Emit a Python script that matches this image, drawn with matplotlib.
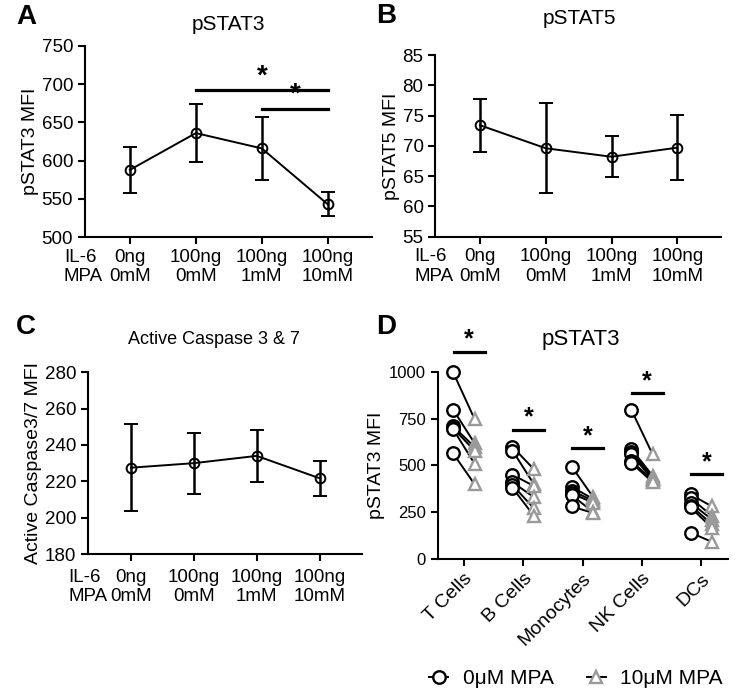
import matplotlib
matplotlib.use("Agg")
import matplotlib.pyplot as plt
from matplotlib.lines import Line2D
from matplotlib.transforms import offset_copy

plt.rcParams['font.family'] = ['Liberation Sans', 'DejaVu Sans']

W, H = 743, 698

# conditions for panels A-C
il6 = ['0ng', '100ng', '100ng', '100ng']
mpa = ['0mM', '0mM', '1mM', '10mM']

# A: pSTAT3
a_mean = [588, 636, 616, 543]
a_err = [30, 37.5, 41, 15.5]
a_sig = [(1, 3, 692), (2, 3, 668)]

# B: pSTAT5
b_mean = [73.4, 69.6, 68.2, 69.7]
b_err = [4.35, 7.4, 3.4, 5.35]

# C: active caspase 3/7
c_mean = [227.5, 230, 234, 221.7]
c_err = [24, 16.8, 14.3, 9.6]

# D: pSTAT3 per cell type, paired 0uM vs 10uM MPA
cells = ['T Cells', 'B Cells', 'Monocytes', 'NK Cells', 'DCs']
d_ctrl = [
    [1000, 800, 710, 700, 695, 565],
    [600, 580, 450, 410, 395, 380],
    [493, 385, 365, 350, 340, 280],
    [800, 590, 575, 560, 525, 515],
    [345, 325, 300, 285, 275, 140],
]
d_mpa = [
    [750, 620, 600, 580, 510, 400],
    [480, 400, 390, 330, 270, 230],
    [330, 320, 310, 300, 250, 245],
    [560, 445, 435, 425, 420, 410],
    [280, 230, 210, 185, 165, 90],
]
d_sig = [1110, 690, 592, 888, 452]

fig = plt.figure(figsize=(W / 100, H / 100), dpi=100)


def px(x, y):
    return x / W, 1 - y / H


def style(ax, size=13.5):
    for s in ['top', 'right']:
        ax.spines[s].set_visible(False)
    for s in ['left', 'bottom']:
        ax.spines[s].set_linewidth(1.5)
    ax.tick_params(width=1.5, length=5, labelsize=size)


def cond_panel(rect, mean, err, ylim, yticks, ylabel, xpad=3.5):
    ax = fig.add_axes(rect)
    x = range(len(mean))
    ax.errorbar(x, mean, yerr=err, color='black', lw=1.4, elinewidth=1.8,
                capsize=4.7, capthick=1.8, marker='o', ms=7, mfc='none',
                mec='black', mew=1.4, clip_on=False)
    ax.set_xlim(-0.68, 3.67)
    ax.set_ylim(*ylim)
    ax.set_yticks(yticks)
    ax.set_xticks(list(x))
    ax.set_xticklabels([a + '\n' + b for a, b in zip(il6, mpa)], linespacing=1.17)
    style(ax)
    ax.tick_params(axis='x', pad=xpad)
    ax.set_ylabel(ylabel, fontsize=14, labelpad=2)
    tr = offset_copy(ax.get_xaxis_transform(), fig=fig, y=-(5 + xpad),
                     units='points')
    ax.text(-1.0, 0, 'IL-6\nMPA', transform=tr, fontsize=13.5, ha='left',
            va='top', linespacing=1.17)
    return ax


axA = cond_panel([0.1144, 0.66, 0.3863, 0.2745], a_mean, a_err, (500, 750),
                 range(500, 751, 50), 'pSTAT3 MFI')
for i, j, y in a_sig:
    axA.plot([i, j], [y, y], color='black', lw=2.3, clip_on=False)
    axA.text((i + j) / 2, y + 1, '*', ha='center', va='bottom', fontsize=20,
             fontweight='bold')

axB = cond_panel([0.5859, 0.6609, 0.3849, 0.2603], b_mean, b_err, (55, 85),
                 range(55, 86, 5), 'pSTAT5 MFI')

axC = cond_panel([0.1188, 0.2063, 0.368, 0.2603], c_mean, c_err, (180, 280),
                 range(180, 281, 20), 'Active Caspase3/7 MFI', xpad=6)

# panel D
axD = fig.add_axes([0.5891, 0.1996, 0.3907, 0.267])
off = 0.18
for k in range(len(cells)):
    for c, t in zip(d_ctrl[k], d_mpa[k]):
        axD.plot([k - off, k + off], [c, t], color='black', lw=1.4, zorder=2,
                 clip_on=False)
    axD.plot([k + off] * len(d_mpa[k]), d_mpa[k], ls='none', marker='^', ms=9,
             mfc='white', mec='#9a9a9a', mew=1.7, zorder=3, clip_on=False)
    axD.plot([k - off] * len(d_ctrl[k]), d_ctrl[k], ls='none', marker='o',
             ms=9, mfc='white', mec='black', mew=1.7, zorder=4, clip_on=False)
    axD.plot([k - 0.17, k + 0.35], [d_sig[k], d_sig[k]], color='black', lw=2.3,
             clip_on=False)
    axD.text(k + 0.09, d_sig[k] + 2, '*', ha='center', va='bottom', fontsize=18,
             fontweight='bold')
axD.set_xlim(-0.44, 4.45)
axD.set_ylim(0, 1000)
axD.set_yticks(range(0, 1001, 250))
axD.set_xticks(range(len(cells)))
style(axD, 12)
axD.set_xticklabels(cells, rotation=45, ha='right', va='top',
                    rotation_mode='anchor', fontsize=14)
axD.set_ylabel('pSTAT3 MFI', fontsize=14, labelpad=3)

# titles
for t, (x, y), s in [('pSTAT3', (228, 25), 15), ('pSTAT5', (579, 18), 15),
                     ('Active Caspase 3 & 7', (214, 340), 13),
                     ('pSTAT3', (581, 339), 16)]:
    fig.text(*px(x, y), t, fontsize=s, ha='center', va='center')

h0 = Line2D([], [], color='black', lw=1.4, marker='o', ms=9, mfc='white',
            mec='black', mew=1.7)
h1 = Line2D([], [], color='black', lw=1.4, marker='^', ms=9, mfc='white',
            mec='#9a9a9a', mew=1.7)
fig.legend([h0, h1], ['0\u03bcM MPA', '10\u03bcM MPA'], loc='center',
           bbox_to_anchor=px(576, 679), ncol=2, frameon=False, fontsize=15,
           handlelength=0.9, columnspacing=1.6, handletextpad=0.7)

# panel letters
for lbl, (x, y) in zip('ABCD', [(16, 17), (376, 16), (16, 327), (376, 327)]):
    fig.text(*px(x, y), lbl, fontsize=20, fontweight='bold', va='center')

fig.savefig('out.png', dpi=100)
